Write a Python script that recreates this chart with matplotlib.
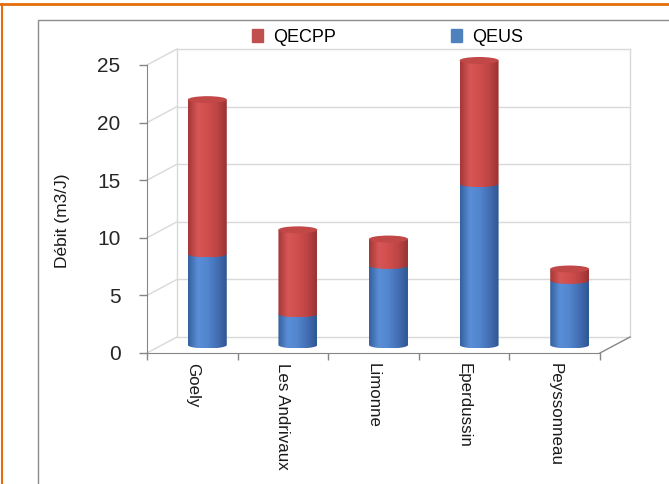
import numpy as np
import matplotlib
matplotlib.use("Agg")
import matplotlib.pyplot as plt
from matplotlib.path import Path
from matplotlib.patches import PathPatch, Ellipse, Rectangle, Patch
from matplotlib.colors import LinearSegmentedColormap
from matplotlib.lines import Line2D

# data
sites = ["Goely", "Les Andrivaux", "Limonne", "Eperdussin", "Peyssonneau"]
qeus = [7.9, 2.7, 6.9, 14.0, 5.6]
qecpp = [13.4, 7.3, 2.3, 10.7, 1.0]
yticks = [0, 5, 10, 15, 20, 25]
series_names = ["QECPP", "QEUS"]

plt.rcParams["font.family"] = ["Liberation Sans", "DejaVu Sans"]

W, H = 669, 484
fig = plt.figure(figsize=(W / 100, H / 100), dpi=100)

# front plane of the fake 3d box
ax = fig.add_axes([147 / W, 1 - 353 / H, 453 / W, 288 / H])
nx = len(sites)
DX = 30 / (453 / nx)      # depth offset in data units (x)
DY = 16 / (288 / 25)      # depth offset in data units (y)

grid_c = "#D9D9D9"
axis_c = "#868686"

# back wall, left wall and floor edges
x0, x1 = -0.5, nx - 0.5
for v in yticks:
    ax.plot([x0 + DX, x1 + DX], [v + DY, v + DY], color=grid_c, lw=1, zorder=0.5, clip_on=False)
    ax.plot([x0, x0 + DX], [v, v + DY], color=grid_c, lw=1, zorder=0.5, clip_on=False)
for xe in (x0, x1):
    ax.plot([xe + DX, xe + DX], [DY, yticks[-1] + DY], color=grid_c, lw=1, zorder=0.5, clip_on=False)
ax.plot([x1, x1 + DX], [0, DY], color=axis_c, lw=1, zorder=0.6, clip_on=False)

blue_cmap = LinearSegmentedColormap.from_list(
    "b", ["#35609E", "#5A8FD8", "#5286CE", "#446FB4", "#2E5893"])
red_cmap = LinearSegmentedColormap.from_list(
    "r", ["#A53837", "#D65656", "#D04F4E", "#BE4444", "#9A3333"])


def cylinder(xc, y0, y1, cmap, z):
    w, h = 0.215, 0.3
    t = np.linspace(np.pi, 2 * np.pi, 40)
    verts = [(xc - w, y1), (xc - w, y0)]
    verts += list(zip(xc + w * np.cos(t), y0 + h * np.sin(t)))
    verts += [(xc + w, y1), (xc - w, y1)]
    codes = [Path.MOVETO] + [Path.LINETO] * (len(verts) - 2) + [Path.CLOSEPOLY]
    clip = PathPatch(Path(verts, codes), transform=ax.transData)
    im = ax.imshow(np.linspace(0, 1, 64)[None, :], extent=(xc - w, xc + w, y0 - h, y1),
                   cmap=cmap, aspect="auto", interpolation="bilinear",
                   clip_path=clip, zorder=z)
    im.set_clip_box(fig.bbox)
    return w, h


for i in range(nx):
    xc = i + DX / 2
    base = DY / 2
    cylinder(xc, base, base + qeus[i], blue_cmap, 2)
    top = base + qeus[i] + qecpp[i]
    w, h = cylinder(xc, base + qeus[i], top, red_cmap, 3)
    ax.add_patch(Ellipse((xc, top), 2 * w, 2 * h, facecolor="#C24747",
                         edgecolor="none", zorder=4, clip_on=False))

ax.set_xlim(x0, x1)
ax.set_ylim(0, 25)

for s in ("top", "right"):
    ax.spines[s].set_visible(False)
for s in ("left", "bottom"):
    ax.spines[s].set_color(axis_c)
    ax.spines[s].set_zorder(5)

ax.set_yticks(yticks)
ax.tick_params(axis="y", direction="out", length=6, width=1, color=axis_c,
               labelsize=15, pad=13, labelcolor="#262626")
ax.set_xticks(range(nx))
ax.set_xticklabels(sites, rotation=-90, fontsize=12.2, color="#1A1A1A")
ax.tick_params(axis="x", which="major", length=0, pad=7)
ax.set_xticks(np.arange(nx + 1) - 0.5, minor=True)
ax.tick_params(axis="x", which="minor", direction="out", length=5, width=1, color=axis_c)
ax.patch.set_visible(False)

fig.text(63 / W, 1 - 221 / H, "Débit (m3/J)", rotation=90, ha="center", va="center",
         fontsize=12.5, color="#1A1A1A")

handles = [Patch(color="#C0504D"), Patch(color="#4F81BD")]
fig.legend(handles, series_names, ncol=2, frameon=False, loc="upper left",
           bbox_to_anchor=(252 / W, 1 - 29 / H), fontsize=13, handlelength=0.6,
           handleheight=0.75, handletextpad=0.55, columnspacing=6.4,
           borderpad=0, borderaxespad=0)

# chart border and the orange frame around it
fig.patches.append(Rectangle((38 / W, -0.1), 1, 1.1 - 20 / H, transform=fig.transFigure,
                             fill=False, edgecolor="#8C8C8C", lw=1))
fig.lines.append(Line2D([0, 1], [1 - 4 / H] * 2, transform=fig.transFigure,
                        color="#E46C0A", lw=2))
fig.lines.append(Line2D([1.5 / W] * 2, [0, 1 - 4 / H], transform=fig.transFigure,
                        color="#E46C0A", lw=1.5))

fig.savefig("out.png", dpi=100, facecolor="white")
